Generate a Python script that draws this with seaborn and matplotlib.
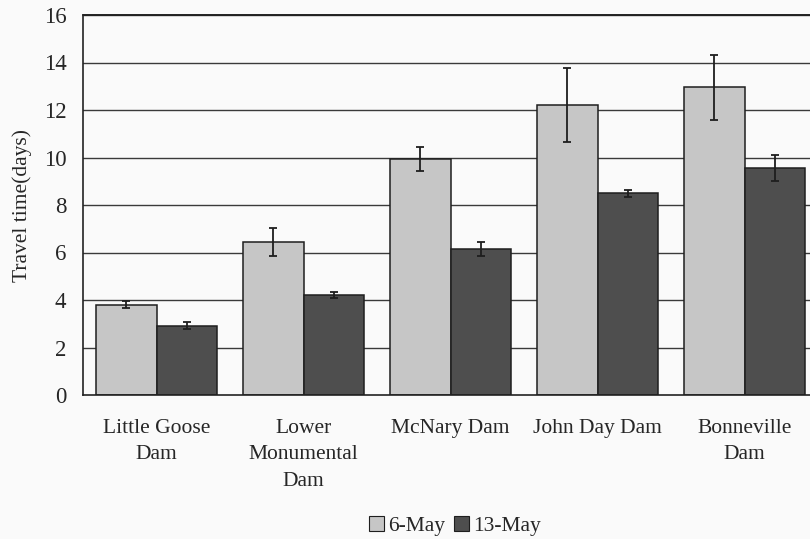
import matplotlib
matplotlib.use("Agg")
import matplotlib.pyplot as plt
import seaborn as sns
import pandas as pd
import numpy as np
from matplotlib.patches import Patch

categories = ["Little Goose\nDam", "Lower\nMonumental\nDam", "McNary Dam", "John Day Dam", "Bonneville\nDam"]
series_names = ["6-May", "13-May"]
may6_values = [3.8, 6.43, 9.94, 12.21, 12.95]
may6_errors = [0.14, 0.59, 0.49, 1.55, 1.35]
may13_values = [2.92, 4.2, 6.15, 8.49, 9.56]
may13_errors = [0.14, 0.13, 0.31, 0.15, 0.53]
yticks = [0, 2, 4, 6, 8, 10, 12, 14, 16]

sns.set_theme(style="white")
plt.rcParams['font.family'] = ['Liberation Serif', 'DejaVu Serif']

df = pd.DataFrame({
    "cat": categories * 2,
    "series": [series_names[0]] * 5 + [series_names[1]] * 5,
    "value": may6_values + may13_values,
})

colors = {"6-May": "#c6c6c6", "13-May": "#4e4e4e"}

fig = plt.figure(figsize=(8.1, 5.39), dpi=100)
fig.patch.set_facecolor("#fafafa")
ax = fig.add_axes([83/810, 1-395/539, (818-83)/810, (395-15)/539])
ax.set_facecolor("#fafafa")

for y in yticks[1:]:
    ax.axhline(y, color="#3a3a3a", lw=1.0, zorder=0)

sns.barplot(data=df, x="cat", y="value", hue="series", palette=colors,
            width=0.82, edgecolor="#1e1e1e", linewidth=1.1, ax=ax,
            legend=False, errorbar=None, zorder=2)

patches = [p for p in ax.patches]
errs = may6_errors + may13_errors
vals = may6_values + may13_values
for p, v, e in zip(patches, vals, errs):
    xc = p.get_x() + p.get_width() / 2
    ax.errorbar(xc, v, yerr=e, fmt="none", ecolor="#1e1e1e", elinewidth=1.3,
                capsize=3, capthick=1.3, zorder=3)

ax.set_ylim(0, 16)
ax.set_xlim(-0.5, 4.5)
ax.set_yticks(yticks)
ax.set_yticklabels([str(t) for t in yticks], fontsize=16.5)
ax.set_xticks(range(5))
ax.set_xticklabels(categories, fontsize=15.5, linespacing=1.55, va="top")
ax.tick_params(axis="x", which="major", length=0, pad=17)
ax.set_xticks(np.arange(0.5, 4.5, 1.0), minor=True)
ax.tick_params(axis="x", which="minor", length=5, width=1.0, color="#222222", direction="out")
ax.tick_params(axis="y", length=5, width=1.0, color="#222222", direction="out", pad=7)
ax.set_xlabel("")
ax.set_ylabel("Travel time(days)", fontsize=15.5, labelpad=8)

for s in ["top", "right"]:
    ax.spines[s].set_visible(False)
for s in ["left", "bottom"]:
    ax.spines[s].set_visible(True)
    ax.spines[s].set_color("#222222")
    ax.spines[s].set_linewidth(1.2)
ax.axhline(16, color="#222222", lw=1.4, zorder=1, clip_on=False)

handles = [Patch(facecolor=colors[n], edgecolor="#1e1e1e", linewidth=0.8) for n in series_names]
fig.legend(handles, series_names, loc="center", bbox_to_anchor=(455/810, 1-526/539),
           ncol=2, frameon=False, fontsize=15.5, handlelength=0.7, handleheight=0.7,
           handletextpad=0.2, columnspacing=0.4)

fig.savefig("out.png", dpi=100, facecolor=fig.get_facecolor())
